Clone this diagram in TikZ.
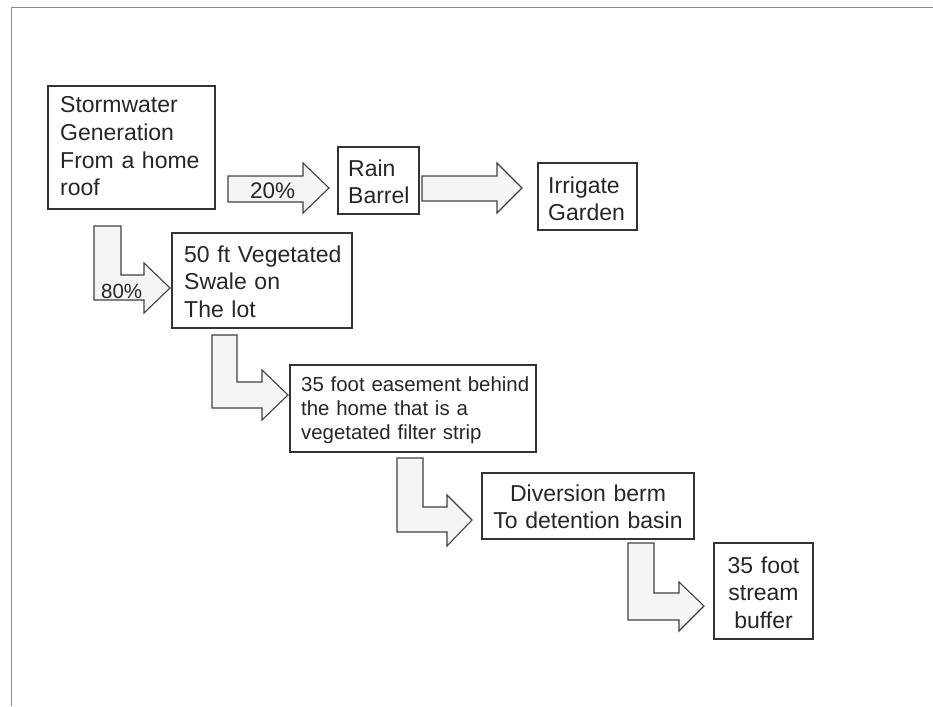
\documentclass[tikz,border=0pt]{standalone}
\usepackage{fontspec}
\setmainfont{Liberation Sans}
\begin{document}
\begin{tikzpicture}[x=1pt,y=-1pt,
  box/.style={draw=black!80, line width=1.2pt, rectangle, inner sep=0pt},
  txt/.style={inner sep=0pt, text=black!85, font=\fontsize{23}{27.5}\selectfont, text width=300pt, align=left, anchor=base west},
  ctxt/.style={inner sep=0pt, text=black!85, font=\fontsize{23}{27.5}\selectfont, align=center, anchor=base},
  blockarrow/.style={draw=black!75, line width=1.1pt, fill=black!4, line join=miter},
  frameline/.style={draw=black!45, line width=1pt}]
\useasboundingbox (0,0) rectangle (933,706);
% frame
\draw[frameline] (11,706) -- (11,8) -- (933,8);
% boxes
\node[box, minimum width=167pt, minimum height=123pt] (storm) at (131.5,147.5) {};
\node[box, minimum width=81pt, minimum height=67pt] (rain) at (378.5,180.5) {};
\node[box, minimum width=99pt, minimum height=67pt] (irr) at (587.5,196.5) {};
\node[box, minimum width=180pt, minimum height=95pt] (swale) at (262,280.5) {};
\node[box, minimum width=246pt, minimum height=87pt] (ease) at (413,408.5) {};
\node[box, minimum width=212pt, minimum height=66pt] (div) at (588,506) {};
\node[box, minimum width=99pt, minimum height=96pt] (stream) at (763.5,591) {};
% texts
\node[txt] (stormt) at (60,113) {Stormwater\\Generation\\From a home\\roof};
\node[txt] (raint) at (348,176) {Rain\\Barrel};
\node[txt] (irrt) at (548,193) {Irrigate\\Garden};
\node[txt] (swalet) at (184,262) {50 ft Vegetated\\Swale on\\The lot};
\node[txt, font=\fontsize{20.4}{24}\selectfont] (easet) at (301,391) {35 foot easement behind\\the home that is a\\vegetated filter strip};
\node[ctxt, text width=212pt] (divt) at (588,501) {Diversion berm\\To detention basin};
\node[ctxt, text width=99pt] (streamt) at (763.5,573) {35 foot\\stream\\buffer};
% straight arrows
\draw[blockarrow] (228,176) -- (303,176) -- (303,163) -- (329,188) -- (303,213) -- (303,202) -- (228,202) -- cycle;
\draw[blockarrow] (422,176) -- (497,176) -- (497,163) -- (522,188) -- (497,213) -- (497,201) -- (422,201) -- cycle;
% bent arrows
\draw[blockarrow] (94,226) -- (121,226) -- (121,275) -- (144,275) -- (144,263) -- (170,288) -- (144,313) -- (144,300) -- (94,300) -- cycle;
\draw[blockarrow] (212,335) -- (237,335) -- (237,382) -- (262,382) -- (262,370) -- (288,395) -- (262,420) -- (262,408) -- (212,408) -- cycle;
\draw[blockarrow] (397,458) -- (423,458) -- (423,507) -- (447,507) -- (447,495) -- (472,520) -- (447,546) -- (447,532) -- (397,532) -- cycle;
\draw[blockarrow] (628,543) -- (654,543) -- (654,593) -- (679,593) -- (679,582) -- (704,606) -- (679,631) -- (679,620) -- (628,620) -- cycle;
% labels
\node[inner sep=0pt, text=black!85, font=\fontsize{22.5}{27}\selectfont, anchor=base west] (p20) at (250,198) {20\%};
\node[inner sep=0pt, text=black!85, font=\fontsize{20.5}{24}\selectfont, anchor=base west] (p80) at (101,298) {80\%};
\end{tikzpicture}
\end{document}
